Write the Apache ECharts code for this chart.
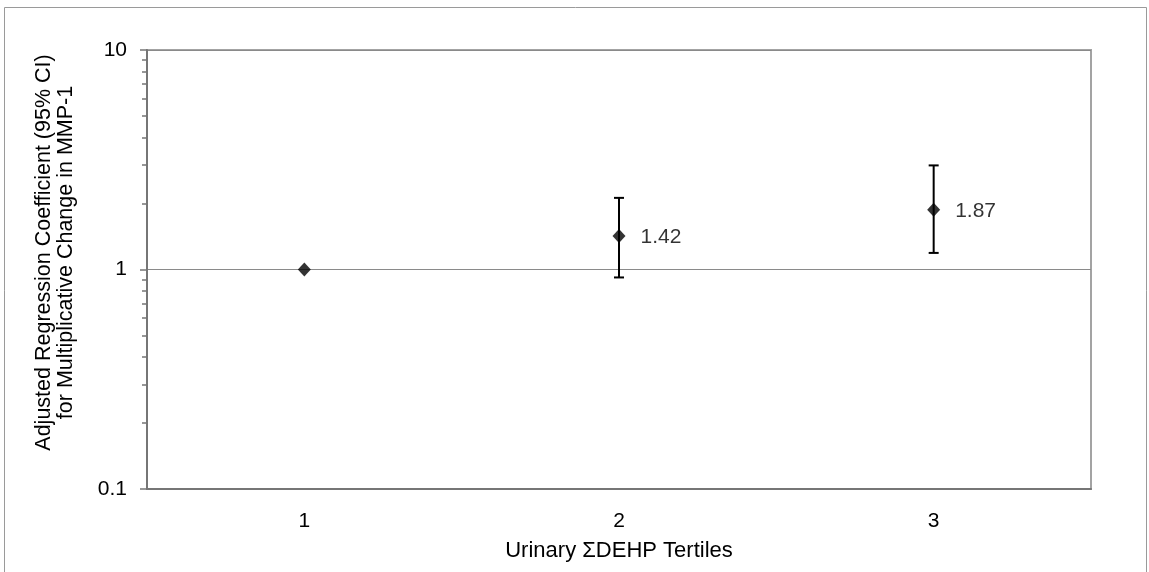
<!DOCTYPE html>
<html>
<head>
<meta charset="utf-8">
<script src="https://cdn.jsdelivr.net/npm/echarts@6/dist/echarts.min.js"></script>
<style>
html,body{margin:0;padding:0;background:#fff;}
#chart{width:1149px;height:572px;}
</style>
</head>
<body>
<div id="chart"></div>
<script>
var categories = ['1', '2', '3'];
var estimates = [1, 1.42, 1.87];
var ciLow = [null, 0.92, 1.19];
var ciHigh = [null, 2.12, 2.98];
var pointLabels = ['', '1.42', '1.87'];

var chart = echarts.init(document.getElementById('chart'));
var FONT = 'Liberation Sans, Arial, sans-serif';

var errData = categories.map(function (c, i) {
  return [i, ciLow[i], ciHigh[i]];
}).filter(function (d) { return d[1] != null; });

var option = {
  backgroundColor: '#fff',
  animation: false,
  graphic: [{
    type: 'rect',
    shape: { x: 4.5, y: 7.5, width: 1142, height: 600 },
    style: { fill: 'none', stroke: '#9a9a9a', lineWidth: 1 },
    silent: true,
    z: -10
  }],
  grid: {
    left: 147, top: 50, right: 58, bottom: 83,
    show: true, borderColor: '#a3a3a3', borderWidth: 2, backgroundColor: 'transparent'
  },
  xAxis: {
    type: 'category',
    data: categories,
    boundaryGap: true,
    name: 'Urinary ΣDEHP Tertiles',
    nameLocation: 'middle',
    nameGap: 51,
    nameTextStyle: { fontFamily: FONT, fontSize: 22, color: '#000' },
    axisLine: { show: true, lineStyle: { color: '#767676', width: 2 } },
    axisTick: { show: false },
    axisLabel: { fontFamily: FONT, fontSize: 21, color: '#000', margin: 22 },
    splitLine: { show: false }
  },
  yAxis: {
    type: 'log',
    logBase: 10,
    min: 0.1,
    max: 10,
    name: 'Adjusted Regression Coefficient (95% CI)\nfor Multiplicative Change in MMP-1',
    nameLocation: 'middle',
    nameRotate: 90,
    nameGap: 70,
    nameTextStyle: { fontFamily: FONT, fontSize: 21.5, color: '#000', lineHeight: 22, align: 'center', padding: [0, 0, 0, 34] },
    axisLine: { show: true, lineStyle: { color: '#767676', width: 2 } },
    axisTick: { show: true, length: 7, lineStyle: { color: '#767676', width: 1.5 } },
    minorTick: { show: true, splitNumber: 9, length: 5, lineStyle: { color: '#767676', width: 1.5 } },
    axisLabel: {
      fontFamily: FONT, fontSize: 21, color: '#000', margin: 20,
      formatter: function (v) { return String(v); }
    },
    splitLine: { show: true, lineStyle: { color: '#8a8a8a', width: 1 } },
    minorSplitLine: { show: false }
  },
  series: [{
    type: 'custom',
    name: 'CI',
    data: errData,
    z: 3,
    renderItem: function (params, api) {
      var x = api.value(0);
      var lo = api.coord([x, api.value(1)]);
      var hi = api.coord([x, api.value(2)]);
      var cap = 5;
      var st = { stroke: '#000', lineWidth: 2 };
      return {
        type: 'group',
        children: [
          { type: 'line', shape: { x1: lo[0], y1: lo[1], x2: hi[0], y2: hi[1] }, style: st },
          { type: 'line', shape: { x1: lo[0] - cap, y1: lo[1], x2: lo[0] + cap, y2: lo[1] }, style: st },
          { type: 'line', shape: { x1: hi[0] - cap, y1: hi[1], x2: hi[0] + cap, y2: hi[1] }, style: st }
        ]
      };
    }
  }, {
    type: 'scatter',
    name: 'Estimate',
    data: estimates,
    symbol: 'diamond',
    symbolSize: [13, 14],
    z: 4,
    itemStyle: { color: '#000' },
    label: {
      show: true,
      position: 'right',
      distance: 15,
      fontFamily: FONT,
      fontSize: 21,
      color: '#000',
      offset: [0, 1],
      formatter: function (p) { return pointLabels[p.dataIndex]; }
    }
  }]
};
chart.setOption(option);
</script>
</body>
</html>
